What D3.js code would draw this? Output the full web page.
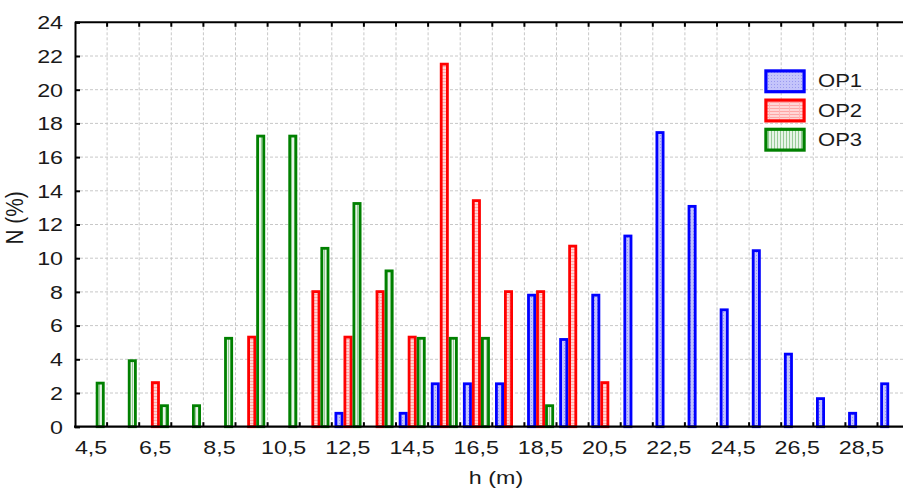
<!DOCTYPE html>
<html><head><meta charset="utf-8">
<script src="https://cdn.jsdelivr.net/npm/d3@7"></script>
<style>
body{margin:0;background:#fff}
svg{display:block}
text{font-family:"Liberation Sans",Arial,sans-serif;fill:#1a1a1a}
</style>
</head><body>
<svg id="c" width="903" height="491"></svg>
<script>
const categories = ["4,5","5,5","6,5","7,5","8,5","9,5","10,5","11,5","12,5","13,5","14,5","15,5","16,5","17,5","18,5","19,5","20,5","21,5","22,5","23,5","24,5","25,5","26,5","27,5","28,5","29,5"];
const seriesNames = ["OP1","OP2","OP3"];
const op1 = [0,0,0,0,0,0,0,0,0.88,0,0.88,2.63,2.63,2.63,7.89,5.26,7.89,11.40,17.54,13.16,7.02,10.53,4.39,1.75,0.88,2.63];
const op2 = [0,0,2.7,0,0,5.4,0,8.1,5.4,8.1,5.4,21.6,13.5,8.1,8.1,10.8,2.7,0,0,0,0,0,0,0,0,0];
const op3 = [2.67,4.0,1.33,1.33,5.33,17.33,17.33,10.67,13.33,9.33,5.33,5.33,5.33,0,1.33,0,0,0,0,0,0,0,0,0,0,0];
const yTicks = [0,2,4,6,8,10,12,14,16,18,20,22,24];
const xTickLabels = ["4,5","6,5","8,5","10,5","12,5","14,5","16,5","18,5","20,5","22,5","24,5","26,5","28,5"];
const xTitle = "h (m)";
const yTitle = "N (%)";

(function(){
const colors = {OP1:"#0000ff", OP2:"#ff0000", OP3:"#008000"};
const seriesData = {OP1:op1, OP2:op2, OP3:op3};

const svg = d3.select("#c");
const leftX = 75, topY = 22.3, bottomY = 426.7, step = 32.1;
const SX = 1.33;

const x = d3.scaleBand().domain(categories).range([leftX, leftX + step*categories.length]).padding(0);
const xs = d3.scaleBand().domain(seriesNames).range([2.7, 29.7]).padding(0);
const y = d3.scaleLinear().domain([0,24]).range([bottomY, topY]);

// patterns
const defs = svg.append("defs");
const pb = defs.append("pattern").attr("id","pOP1").attr("patternUnits","userSpaceOnUse").attr("width",3).attr("height",3);
pb.append("rect").attr("width",3).attr("height",3).attr("fill","#c4c4fb");
pb.append("rect").attr("width",1).attr("height",1).attr("fill","#9a9af0");
const pr = defs.append("pattern").attr("id","pOP2").attr("patternUnits","userSpaceOnUse").attr("width",10).attr("height",3);
pr.append("rect").attr("width",10).attr("height",3).attr("fill","#ffd6d6");
pr.append("rect").attr("width",10).attr("height",1).attr("fill","#ffa6a6");
pr.append("rect").attr("x",9).attr("width",1).attr("height",3).attr("fill","#ffb8b8");
const pg = defs.append("pattern").attr("id","pOP3").attr("patternUnits","userSpaceOnUse").attr("width",3).attr("height",3);
pg.append("rect").attr("width",3).attr("height",3).attr("fill","#e8f4e8");
pg.append("rect").attr("width",1).attr("height",3).attr("fill","#98cc98");

// grid
const boundaries = categories.slice(1).map(c => x(c));
svg.append("g").selectAll("line").data(boundaries).join("line")
  .attr("x1",d=>d).attr("x2",d=>d).attr("y1",topY).attr("y2",bottomY)
  .attr("stroke","#c8c8c8").attr("stroke-width",1).attr("stroke-dasharray","3,2");
svg.append("g").selectAll("line").data(yTicks.filter(t=>t>0 && t<24)).join("line")
  .attr("x1",leftX).attr("x2",903).attr("y1",d=>y(d)).attr("y2",d=>y(d))
  .attr("stroke","#c8c8c8").attr("stroke-width",1).attr("stroke-dasharray","3,2");

// bars
const sw = 2.8;
seriesNames.forEach(s => {
  svg.append("g").selectAll("rect").data(categories.map((c,i)=>({c, v:seriesData[s][i]})).filter(d=>d.v>0)).join("rect")
    .attr("x", d => x(d.c) + xs(s) + sw/2)
    .attr("width", xs.bandwidth() - sw)
    .attr("y", d => y(d.v) + sw/2)
    .attr("height", d => Math.max(0, y(0) - y(d.v) - sw/2))
    .attr("fill", `url(#p${s})`)
    .attr("stroke", colors[s]).attr("stroke-width", sw);
});

// inward ticks at boundaries
svg.append("g").selectAll("line").data(boundaries).join("line")
  .attr("x1",d=>d).attr("x2",d=>d).attr("y1",bottomY).attr("y2",bottomY-4.5)
  .attr("stroke","#000").attr("stroke-width",2);
svg.append("g").selectAll("line").data(boundaries).join("line")
  .attr("x1",d=>d).attr("x2",d=>d).attr("y1",topY).attr("y2",topY+4.5)
  .attr("stroke","#000").attr("stroke-width",2);

// frame top line
svg.append("line").attr("x1",leftX).attr("x2",903).attr("y1",topY).attr("y2",topY).attr("stroke","#000").attr("stroke-width",2);

// left axis
const ya = svg.append("g").attr("transform",`translate(${leftX},0)`)
  .call(d3.axisLeft(y).tickValues(yTicks).tickSize(-5).tickPadding(0).tickFormat(d3.format("d")));
ya.select(".domain").attr("stroke","#000").attr("stroke-width",2);
ya.selectAll(".tick line").attr("stroke","#000").attr("stroke-width",2);
ya.selectAll(".tick text")
  .attr("x", -12/SX).attr("dy","0.36em")
  .attr("transform",`scale(${SX},1)`)
  .style("font-size","17.5px").style("font-family",'"Liberation Sans",Arial,sans-serif').attr("fill","#1a1a1a");

// bottom axis (labels)
const xa = svg.append("g").attr("transform",`translate(0,${bottomY})`)
  .call(d3.axisBottom(x).tickValues(xTickLabels).tickSize(0).tickPadding(14.5));
xa.select(".domain").remove();
xa.selectAll(".tick text")
  .attr("transform",`scale(${SX},1)`)
  .style("font-size","17.5px").style("font-family",'"Liberation Sans",Arial,sans-serif').attr("fill","#1a1a1a");
svg.append("line").attr("x1",leftX-1).attr("x2",903).attr("y1",bottomY).attr("y2",bottomY).attr("stroke","#000").attr("stroke-width",2.2);

// axis titles
svg.append("text").attr("transform",`translate(496,483.5) scale(${SX},1)`)
  .attr("text-anchor","middle").style("font-size","17.5px").text(xTitle);
svg.append("text").attr("transform",`translate(23,218) rotate(-90) scale(1.19,${SX})`)
  .attr("text-anchor","middle").style("font-size","17.5px").text(yTitle);

// legend
const lg = svg.append("g");
seriesNames.forEach((s,i) => {
  const yy = 69.3 + i*29.2;
  lg.append("rect").attr("x",764.3+1.6).attr("y",yy+1.6).attr("width",41.4-3.2).attr("height",24-3.2)
    .attr("fill",`url(#p${s})`).attr("stroke",colors[s]).attr("stroke-width",3.2);
  lg.append("text").attr("transform",`translate(818,${yy+18}) scale(1.26,1)`)
    .style("font-size","17.5px").text(s);
});
})();
</script>
</body></html>
